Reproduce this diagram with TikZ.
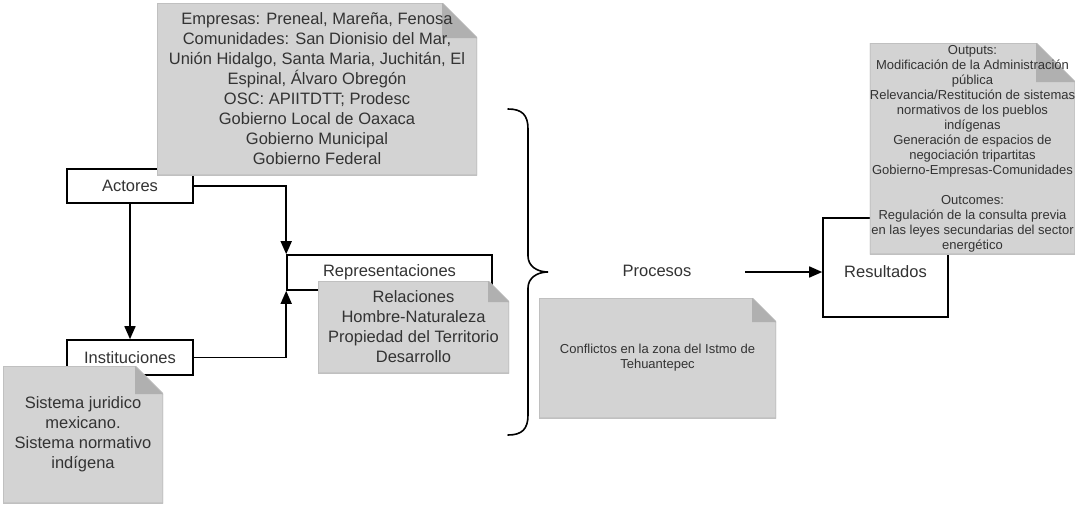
\documentclass[tikz,border=0pt]{standalone}
\usepackage{fontspec}
\setmainfont{Liberation Sans}
\usetikzlibrary{arrows.meta}
\definecolor{txt}{HTML}{333333}
\definecolor{notefill}{HTML}{D3D3D3}
\definecolor{noteline}{HTML}{C0C0C0}
\definecolor{foldfill}{HTML}{B0B0B0}
\newcommand{\bigfont}{\fontsize{16.5}{20}\selectfont}
\newcommand{\smallfont}{\fontsize{13}{15}\selectfont}
\tikzset{
  boxnode/.style={draw=black, line width=1.6pt, fill=white, rectangle, inner sep=0pt, text=txt, font=\bigfont},
  conn/.style={draw=black, line width=1.6pt},
  arr/.style={conn, -{Triangle[length=13pt,width=11pt]}},
  notebox/.style={rectangle, inner sep=0pt, align=center, text=txt,
    path picture={
      \fill[notefill, draw=noteline, line width=1.5pt]
        (path picture bounding box.south west) -- (path picture bounding box.north west)
        -- ([xshift=-#1 pt]path picture bounding box.north east)
        -- ([yshift=-#1 pt]path picture bounding box.north east)
        -- (path picture bounding box.south east) -- cycle;
      \fill[foldfill]
        ([xshift=-#1 pt]path picture bounding box.north east)
        -- ([xshift=-#1 pt,yshift=-#1 pt]path picture bounding box.north east)
        -- ([yshift=-#1 pt]path picture bounding box.north east) -- cycle;
    }},
}
\begin{document}
\begin{tikzpicture}[x=1pt,y=-1pt]
\useasboundingbox[fill=white] (0,0) rectangle (1075,506);

% boxes
\node[boxnode, minimum width=126pt, minimum height=34pt] (actores) at (130,186) {Actores};
\node[boxnode, minimum width=126pt, minimum height=35pt] (inst) at (130,357.5) {Instituciones};
\node[boxnode, minimum width=205pt, minimum height=35pt] (rep) at (389.5,272.5) {Representaciones};
\node[boxnode, minimum width=125pt, minimum height=99pt, text height=20pt, text depth=0pt] (res) at (885.5,267.5) {Resultados};
\node[text=txt, font=\bigfont, inner sep=0pt] (proc) at (657,271) {Procesos};
\coordinate (pa) at (745,272);

% connectors
\draw[arr] (actores.south) -- (inst.north);
\draw[arr] (actores.east) -| (rep.north west);
\draw[arr] (inst.east) -| (rep.south west);
\draw[arr] (pa) -- (pa -| res.west);

% brace
\draw[line width=1.6pt, line cap=round]
  (508,109) .. controls (522,109) and (528,115) .. (528,129) -- (528,256)
  .. controls (528,266) and (537,272) .. (548,272)
  .. controls (537,272) and (528,278) .. (528,288) -- (528,415)
  .. controls (528,429) and (522,435) .. (508,435);

% notes
\node[notebox=35, minimum width=320pt, minimum height=172pt, font=\bigfont] (actnote) at (317,89)
  {Empresas: Preneal, Mareña, Fenosa\\Comunidades: San Dionisio del Mar,\\Unión Hidalgo, Santa Maria, Juchitán, El\\Espinal, Álvaro Obregón\\OSC: APIITDTT; Prodesc\\Gobierno Local de Oaxaca\\Gobierno Municipal\\Gobierno Federal};
\node[notebox=21, minimum width=191pt, minimum height=92pt, font=\bigfont] (repnote) at (413.5,327)
  {Relaciones\\Hombre-Naturaleza\\Propiedad del Territorio\\Desarrollo};
\node[notebox=28, minimum width=160pt, minimum height=137pt, font=\bigfont] (instnote) at (83,434.5)
  {Sistema juridico\\mexicano.\\Sistema normativo\\indígena};
\node[notebox=24, minimum width=237pt, minimum height=120pt, font=\smallfont] (procnote) at (657.5,358)
  {Conflictos en la zona del Istmo de\\Tehuantepec};
\node[notebox=39, minimum width=203pt, minimum height=211pt, font=\smallfont] (resnote) at (972.5,148.5)
  {Outputs:\\Modificación de la Administración\\pública\\Relevancia/Restitución de sistemas\\normativos de los pueblos\\indígenas\\Generación de espacios de\\negociación tripartitas\\Gobierno-Empresas-Comunidades\\[15pt]Outcomes:\\Regulación de la consulta previa\\en las leyes secundarias del sector\\energético};
\end{tikzpicture}
\end{document}
